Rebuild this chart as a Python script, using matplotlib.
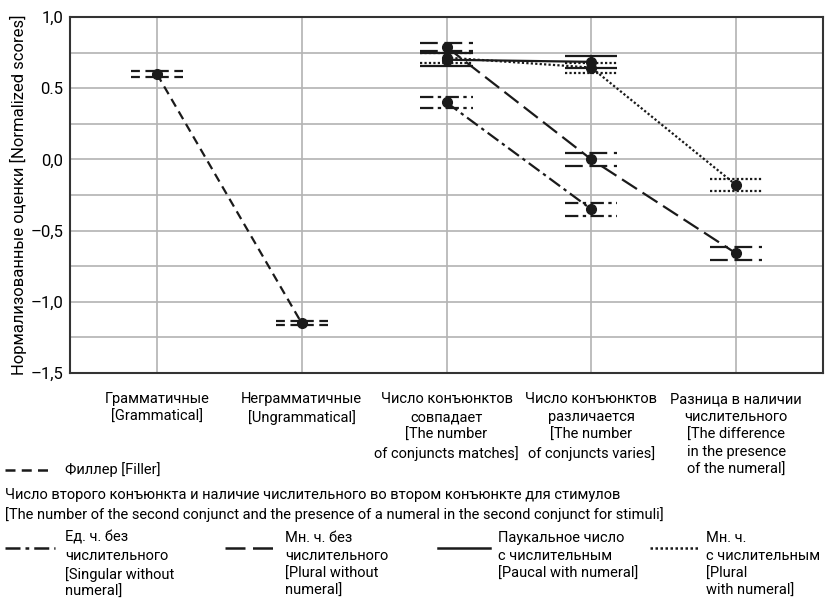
import matplotlib
matplotlib.use('Agg')
import matplotlib.pyplot as plt
from matplotlib.lines import Line2D

plt.rcParams['font.family'] = ['Roboto', 'DejaVu Sans']

# Категории по оси X
categories = ['Грамматичные\n[Grammatical]',
              'Неграмматичные\n[Ungrammatical]',
              'Число конъюнктов\nсовпадает\n[The number\nof conjuncts matches]',
              'Число конъюнктов\nразличается\n[The number\nof conjuncts varies]',
              'Разница в наличии\nчислительного\n[The difference\nin the presence\nof the numeral]']

# Филлеры
filler_x = [0, 1]
filler_mean = [0.60, -1.15]
filler_err = [0.02, 0.015]

# Ед. ч. без числительного
sg_x = [2, 3]
sg_mean = [0.40, -0.35]
sg_err = [0.04, 0.045]

# Мн. ч. без числительного
pl_x = [2, 3, 4]
pl_mean = [0.79, 0.0, -0.66]
pl_err = [0.03, 0.045, 0.045]

# Паукальное число с числительным
pc_x = [2, 3]
pc_mean = [0.70, 0.685]
pc_err = [0.045, 0.04]

# Мн. ч. с числительным
pn_x = [2, 3, 4]
pn_mean = [0.715, 0.645, -0.18]
pn_err = [0.035, 0.035, 0.045]

yticks = [-1.5, -1.0, -0.5, 0.0, 0.5, 1.0]
yticklabels = ['–1,5', '–1,0', '–0,5', '0,0', '0.5', '1,0']

st_filler = (0, (4, 2.5))
st_sg = (0, (6, 2, 1.5, 2))
st_pl = (0, (8, 3))
st_pc = '-'
st_pn = (0, (1, 1))

FS = 10.5
LSP = 1.33

W, H = 826, 607
fig = plt.figure(figsize=(W / 100, H / 100), dpi=100)
ax = fig.add_axes([70 / W, 1 - 373 / H, (823 - 70) / W, (373 - 17) / H])

series = [
    (filler_x, filler_mean, filler_err, st_filler),
    (sg_x, sg_mean, sg_err, st_sg),
    (pl_x, pl_mean, pl_err, st_pl),
    (pc_x, pc_mean, pc_err, st_pc),
    (pn_x, pn_mean, pn_err, st_pn),
]

for xs, m, e, st in series:
    ax.plot(xs, m, color='#1a1a1a', linestyle=st, linewidth=1.6, zorder=3)
    for x, v, d in zip(xs, m, e):
        for yy in (v - d, v + d):
            ax.hlines(yy, x - 0.18, x + 0.18, color='#1a1a1a', linestyle=st,
                      linewidth=1.6, zorder=3)
    ax.plot(xs, m, 'o', color='#1a1a1a', markersize=7, zorder=4)

ax.set_xlim(-0.6, 4.6)
ax.set_ylim(-1.5, 1.0)
ax.set_yticks(yticks)
ax.set_yticklabels(yticklabels, fontsize=12)
ax.set_yticks([-1.25, -0.75, -0.25, 0.25, 0.75], minor=True)
ax.set_xticks(range(len(categories)))
ax.set_xticklabels(categories, fontsize=FS, va='top', linespacing=LSP)
ax.tick_params(axis='both', which='both', length=0)
ax.tick_params(axis='x', pad=14)
ax.tick_params(axis='y', pad=5)
ax.grid(True, which='both', color='#b3b3b3', linewidth=1.2)
ax.set_axisbelow(True)
for s in ax.spines.values():
    s.set_color('#333333')
    s.set_linewidth(1.5)
ax.set_ylabel('Нормализованные оценки [Normalized scores]', fontsize=12, labelpad=2)

# Легенда (вручную)
def px(x, y):
    return x / W, 1 - y / H

def sample(x0, x1, y, st):
    a, b = px(x0, y)
    c, _ = px(x1, y)
    fig.add_artist(Line2D([a, c], [b, b], color='#1a1a1a', linestyle=st,
                          linewidth=1.8, transform=fig.transFigure))

sample(5, 53, 470, st_filler)
fig.text(*px(65, 470), 'Филлер [Filler]', fontsize=FS, va='center')
fig.text(*px(5, 495), 'Число второго конъюнкта и наличие числительного во втором конъюнкте для стимулов',
         fontsize=FS, va='center')
fig.text(*px(5, 515), '[The number of the second conjunct and the presence of a numeral in the second conjunct for stimuli]',
         fontsize=FS, va='center')

items = [
    (5, 55, 65, st_sg, 'Ед. ч. без\nчислительного\n[Singular without\nnumeral]'),
    (225, 275, 285, st_pl, 'Мн. ч. без\nчислительного\n[Plural without\nnumeral]'),
    (438, 490, 498, st_pc, 'Паукальное число\nс числительным\n[Paucal with numeral]'),
    (650, 698, 706, st_pn, 'Мн. ч.\nс числительным\n[Plural\nwith numeral]'),
]
for x0, x1, tx, st, lab in items:
    sample(x0, x1, 548, st)
    fig.text(*px(tx, 531), lab, fontsize=FS, va='top', linespacing=LSP)

fig.savefig('out.png', dpi=100)
